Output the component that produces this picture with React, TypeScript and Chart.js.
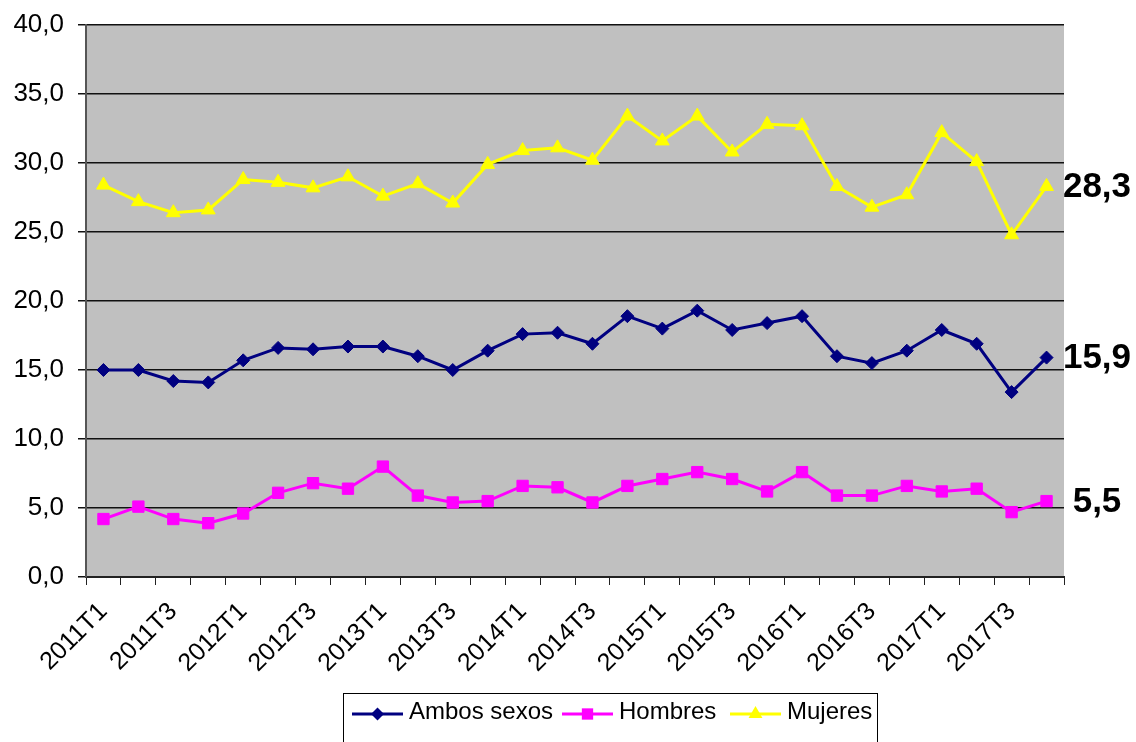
import React, { useEffect, useRef } from "react";
import { Chart, registerables } from "chart.js";

Chart.register(...registerables);

const categories = [
  "2011T1", "2011T2", "2011T3", "2011T4",
  "2012T1", "2012T2", "2012T3", "2012T4",
  "2013T1", "2013T2", "2013T3", "2013T4",
  "2014T1", "2014T2", "2014T3", "2014T4",
  "2015T1", "2015T2", "2015T3", "2015T4",
  "2016T1", "2016T2", "2016T3", "2016T4",
  "2017T1", "2017T2", "2017T3", "2017T4",
];

const ambosSexos = [15.0, 15.0, 14.2, 14.1, 15.7, 16.6, 16.5, 16.7, 16.7, 16.0, 15.0, 16.4, 17.6, 17.7, 16.9, 18.9, 18.0, 19.3, 17.9, 18.4, 18.9, 16.0, 15.5, 16.4, 17.9, 16.9, 13.4, 15.9];
const hombres = [4.2, 5.1, 4.2, 3.9, 4.6, 6.1, 6.8, 6.4, 8.0, 5.9, 5.4, 5.5, 6.6, 6.5, 5.4, 6.6, 7.1, 7.6, 7.1, 6.2, 7.6, 5.9, 5.9, 6.6, 6.2, 6.4, 4.7, 5.5];
const mujeres = [28.4, 27.2, 26.4, 26.6, 28.8, 28.6, 28.2, 29.0, 27.6, 28.5, 27.1, 29.9, 30.9, 31.1, 30.2, 33.4, 31.6, 33.4, 30.8, 32.8, 32.7, 28.3, 26.8, 27.7, 32.2, 30.1, 24.8, 28.3];

const seriesNames = ["Ambos sexos", "Hombres", "Mujeres"];
const seriesColors = ["#000080", "#FF00FF", "#FFFF00"];
const seriesMarkers = ["rectRot", "rect", "triangle"];
const seriesRadius = [6.5, 8, 8];

const FONT = '"Liberation Sans", Arial, sans-serif';

const fmt = (v: number) => v.toFixed(1).replace(".", ",");

function drawMarker(ctx: CanvasRenderingContext2D, style: string, x: number, y: number, r: number, color: string) {
  ctx.save();
  ctx.fillStyle = color;
  ctx.beginPath();
  if (style === "rectRot") {
    ctx.moveTo(x, y - r);
    ctx.lineTo(x + r, y);
    ctx.lineTo(x, y + r);
    ctx.lineTo(x - r, y);
  } else if (style === "rect") {
    const s = r * Math.SQRT1_2;
    ctx.rect(x - s, y - s, 2 * s, 2 * s);
  } else {
    const h = r * 1.5;
    const w = r * Math.sqrt(3) / 2;
    ctx.moveTo(x, y - r);
    ctx.lineTo(x + w, y - r + h);
    ctx.lineTo(x - w, y - r + h);
  }
  ctx.closePath();
  ctx.fill();
  ctx.restore();
}

const bgPlugin = {
  id: "plotBg",
  beforeDraw(chart: any) {
    const { ctx, chartArea } = chart;
    ctx.save();
    ctx.fillStyle = "#C0C0C0";
    ctx.fillRect(chartArea.left, chartArea.top, chartArea.right - chartArea.left, chartArea.bottom - chartArea.top);
    ctx.restore();
  },
};

const extrasPlugin = {
  id: "extras",
  afterDraw(chart: any) {
    const { ctx, chartArea } = chart;
    const yScale = chart.scales.y;
    // end labels
    ctx.save();
    ctx.fillStyle = "#000";
    ctx.font = `bold 35px ${FONT}`;
    ctx.textAlign = "center";
    ctx.textBaseline = "middle";
    chart.data.datasets.forEach((ds: any) => {
      const last = ds.data[ds.data.length - 1];
      ctx.fillText(fmt(last), chartArea.right + 33, yScale.getPixelForValue(last) + 1);
    });
    ctx.restore();

    // legend
    ctx.save();
    ctx.strokeStyle = "#000";
    ctx.lineWidth = 1;
    ctx.strokeRect(343.5, 693.5, 534, 60);
    ctx.font = `24px ${FONT}`;
    ctx.textBaseline = "middle";
    ctx.textAlign = "left";
    const ly = 714;
    const starts = [352, 562, 730];
    chart.data.datasets.forEach((ds: any, i: number) => {
      const x0 = starts[i];
      ctx.strokeStyle = ds.borderColor;
      ctx.lineWidth = 3;
      ctx.beginPath();
      ctx.moveTo(x0, ly);
      ctx.lineTo(x0 + 51, ly);
      ctx.stroke();
      drawMarker(ctx, ds.pointStyle, x0 + 25.5, ly, ds.pointRadius, ds.borderColor);
      ctx.fillStyle = "#000";
      ctx.fillText(ds.label, x0 + 57, ly - 2);
    });
    ctx.restore();
  },
};

export default function App() {
  const canvasRef = useRef<HTMLCanvasElement | null>(null);

  useEffect(() => {
    document.body.style.margin = "0";
    const canvas = canvasRef.current;
    if (!canvas) return;
    const dataArrays = [ambosSexos, hombres, mujeres];
    const chart = new Chart(canvas, {
      type: "line",
      data: {
        labels: categories,
        datasets: dataArrays.map((d, i) => ({
          label: seriesNames[i],
          data: d,
          borderColor: seriesColors[i],
          backgroundColor: seriesColors[i],
          pointBackgroundColor: seriesColors[i],
          pointBorderColor: seriesColors[i],
          pointStyle: seriesMarkers[i] as any,
          pointRadius: seriesRadius[i],
          pointBorderWidth: 1,
          borderWidth: 3,
          tension: 0,
          fill: false,
        })),
      },
      options: {
        animation: false,
        responsive: false,
        devicePixelRatio: 1,
        layout: { padding: { top: 25, right: 72, left: 0, bottom: 0 } },
        plugins: {
          legend: { display: false },
          tooltip: { enabled: false },
        },
        scales: {
          x: {
            type: "category",
            offset: true,
            afterFit: (scale: any) => {
              scale.height = 165;
            },
            grid: {
              offset: true,
              drawOnChartArea: false,
              drawTicks: true,
              tickLength: 8,
              color: "#222",
              lineWidth: 1,
            },
            border: { display: true, color: "#222", width: 2 },
            ticks: {
              autoSkip: false,
              minRotation: 45,
              maxRotation: 45,
              padding: 12,
              color: "#000",
              font: { family: FONT, size: 25 },
              callback: (_v: any, i: number) => (i % 2 === 0 ? categories[i] : ""),
            },
          },
          y: {
            min: 0,
            max: 40,
            afterFit: (scale: any) => {
              scale.width = 86;
              scale.paddingTop = 0;
              scale.paddingBottom = 0;
            },
            grid: {
              color: "#111",
              lineWidth: 1.5,
              drawTicks: true,
              tickLength: 8,
            },
            border: { display: true, color: "#555", width: 2 },
            ticks: {
              stepSize: 5,
              padding: 14,
              color: "#000",
              font: { family: FONT, size: 26 },
              callback: (v: any) => fmt(Number(v)),
            },
          },
        },
      },
      plugins: [bgPlugin, extrasPlugin],
    });
    return () => chart.destroy();
  }, []);

  return (
    <div style={{ width: 1136, height: 742, position: "relative", background: "#fff" }}>
      <canvas ref={canvasRef} width={1136} height={742} />
    </div>
  );
}
